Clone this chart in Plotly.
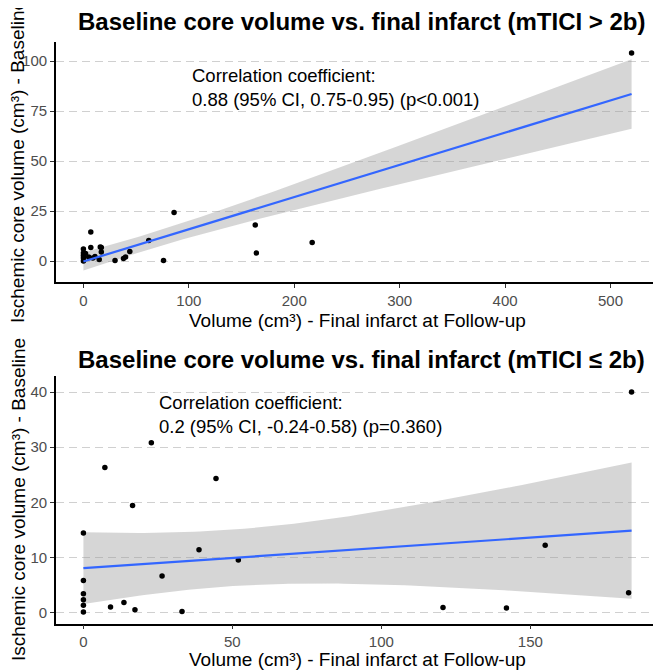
import numpy as np
import plotly.graph_objects as go

# mTICI > 2b : final infarct volume (x) vs baseline core volume (y), cm3
top_x = [0, 0, 0, 0, 0, 2, 5, 7, 7, 9, 11, 15, 16, 17, 17, 30, 38, 40, 44,
         62, 76, 86, 163, 164, 217, 520]
top_y = [0, 1.5, 2.8, 4, 6, 3.8, 2, 6.7, 14.5, 1.5, 2.2, 0.8, 7, 4.5, 6.8,
         0.3, 1.2, 2, 4.8, 10.3, 0.2, 24.3, 18, 4, 9.2, 104]

# mTICI <= 2b
bot_x = [0, 0, 0, 0, 0, 0, 7.2, 9.1, 13.6, 16.5, 17.3, 22.8, 26.4, 33.1,
         38.8, 44.5, 52, 120.7, 142, 155, 183, 184]
bot_y = [14.4, 5.8, 3.4, 2.3, 1.3, 0.1, 26.3, 1.0, 1.8, 19.4, 0.5, 30.8,
         6.6, 0.2, 11.4, 24.3, 9.5, 0.9, 0.8, 12.2, 3.6, 40]

top_ticks = [0, 100, 200, 300, 400, 500]
top_yticks = [0, 25, 50, 75, 100]
bot_ticks = [0, 50, 100, 150]
bot_yticks = [0, 10, 20, 30, 40]

top_title = 'Baseline core volume vs. final infarct (mTICI > 2b)'
bot_title = 'Baseline core volume vs. final infarct (mTICI ≤ 2b)'
top_note = 'Correlation coefficient:<br>0.88 (95% CI, 0.75-0.95) (p<0.001)'
bot_note = 'Correlation coefficient:<br>0.2 (95% CI, -0.24-0.58) (p=0.360)'
x_title = 'Volume (cm³) - Final infarct at Follow-up'
y_title = 'Ischemic core volume (cm³) - Baseline'

# page body has an 8px margin, so the figure is a bit smaller than the window
OFF = 8
W, H = 653, 662
L, R = 48, 1.5
FONT = 'Liberation Sans, Arial, sans-serif'


def t975(df):
    """Approximate 97.5% quantile of Student's t."""
    z = 1.959964
    return (z + (z ** 3 + z) / (4 * df)
            + (5 * z ** 5 + 16 * z ** 3 + 3 * z) / (96 * df ** 2))


def fit_band(x, y, n=100):
    """Linear fit with 95% confidence band, like geom_smooth(method='lm')."""
    x = np.asarray(x, float)
    y = np.asarray(y, float)
    b1, b0 = np.polyfit(x, y, 1)
    xs = np.linspace(x.min(), x.max(), n)
    yhat = b0 + b1 * xs
    resid = y - (b0 + b1 * x)
    df = len(x) - 2
    s = np.sqrt(np.sum(resid ** 2) / df)
    sxx = np.sum((x - x.mean()) ** 2)
    se = s * np.sqrt(1 / len(x) + (xs - x.mean()) ** 2 / sxx)
    t = t975(df)
    return xs, yhat, yhat - t * se, yhat + t * se


def px_x(p):
    """Window pixel x -> paper x."""
    return (p - OFF - L) / (W - L - R)


def px_y(p):
    """Window pixel y -> paper y."""
    return 1 - (p - OFF) / H


fig = go.Figure()

for x, y, xa, ya in [(top_x, top_y, 'x', 'y'), (bot_x, bot_y, 'x2', 'y2')]:
    xs, yhat, lo, hi = fit_band(x, y)
    fig.add_trace(go.Scatter(
        x=np.concatenate([xs, xs[::-1]]),
        y=np.concatenate([hi, lo[::-1]]),
        fill='toself', fillcolor='rgba(153,153,153,0.4)',
        line=dict(width=0), mode='lines', hoverinfo='skip',
        xaxis=xa, yaxis=ya
    ))
    fig.add_trace(go.Scatter(
        x=x, y=y, mode='markers',
        marker=dict(color='black', size=5.5),
        xaxis=xa, yaxis=ya
    ))
    fig.add_trace(go.Scatter(
        x=xs, y=yhat, mode='lines',
        line=dict(color='#3366FF', width=2.2),
        xaxis=xa, yaxis=ya
    ))

axis_common = dict(
    showline=True, linecolor='black', linewidth=1.7,
    ticks='outside', ticklen=4, tickcolor='#333333', tickwidth=1.2,
    tickfont=dict(size=15, color='#4d4d4d', family=FONT),
    zeroline=False,
)
grid = dict(showgrid=True, gridcolor='#d0d0d0', griddash='8px,5px',
            gridwidth=1)

fig.update_layout(
    width=W, height=H,
    margin=dict(l=L, r=R, t=0, b=0),
    plot_bgcolor='white', paper_bgcolor='white',
    showlegend=False,
    font=dict(family=FONT, color='black'),
    xaxis=dict(domain=[0, 1], anchor='y', range=[-26, 546],
               tickvals=top_ticks, showgrid=False, **axis_common),
    yaxis=dict(domain=[px_y(282), px_y(42)], anchor='x', range=[-10.5, 109.5],
               tickvals=top_yticks, **grid, **axis_common),
    xaxis2=dict(domain=[0, 1], anchor='y2', range=[-9.2, 193.2],
                tickvals=bot_ticks, showgrid=False, **axis_common),
    yaxis2=dict(domain=[px_y(623.5), px_y(375.5)], anchor='x2', range=[-2, 43],
                tickvals=bot_yticks, **grid, **axis_common),
)

notes = [
    dict(text='<b>' + top_title + '</b>', x=362, y=21, size=24),
    dict(text='<b>' + bot_title + '</b>', x=362, y=359, size=24),
    dict(text=x_title, x=358, y=320, size=19),
    dict(text=x_title, x=358, y=659, size=19),
]
for n in notes:
    fig.add_annotation(text=n['text'], x=px_x(n['x']), y=px_y(n['y']),
                       xref='paper', yref='paper', showarrow=False,
                       xanchor='center', yanchor='middle',
                       font=dict(size=n['size']))

for yc in [162, 500]:
    fig.add_annotation(text=y_title, x=px_x(18), y=px_y(yc), xref='paper',
                       yref='paper', showarrow=False, textangle=-90,
                       xanchor='center', yanchor='middle',
                       font=dict(size=19))

fig.add_annotation(text=top_note, x=px_x(190), y=px_y(87), xref='paper',
                   yref='paper', showarrow=False, xanchor='left',
                   yanchor='middle', align='left', font=dict(size=18.5))
fig.add_annotation(text=bot_note, x=px_x(157), y=px_y(414), xref='paper',
                   yref='paper', showarrow=False, xanchor='left',
                   yanchor='middle', align='left', font=dict(size=18.5))

fig.write_html('out.html')
